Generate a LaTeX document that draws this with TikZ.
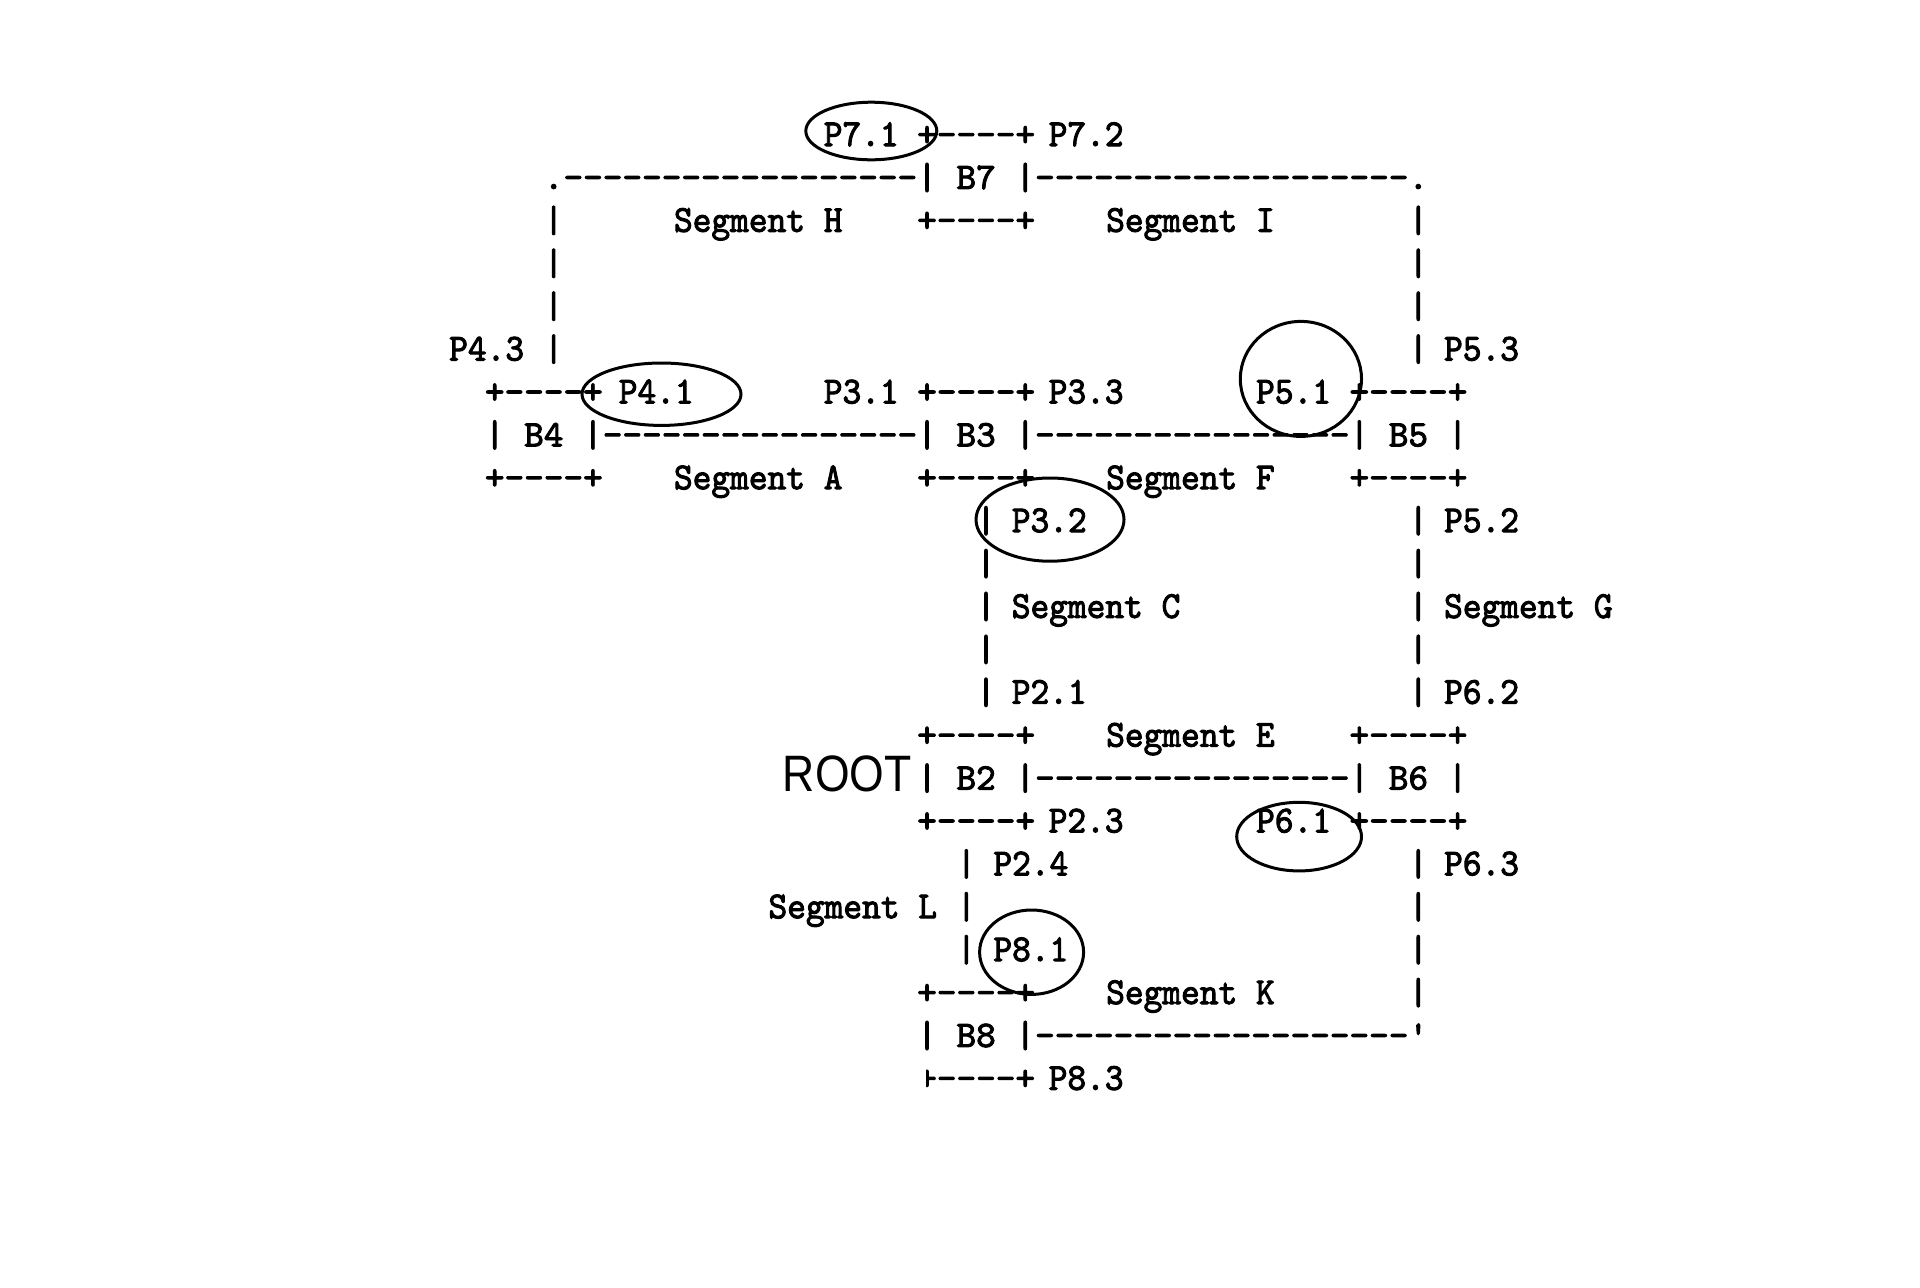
\documentclass[tikz,border=0pt]{standalone}
\usepackage{fontspec}
\usetikzlibrary{shapes.geometric}
\newfontfamily\rootfont{Liberation Sans}
\newfontfamily\asciifont{lmmono10-regular.otf}[FakeBold=2.6]
\newcommand\asciisize{\fontsize{18.67}{20}\selectfont\asciifont}
\ExplSyntaxOn
\NewDocumentCommand \cells { m }
  { \str_map_inline:nn { #1 } { \makebox [ 9.825pt ] [ c ] { ##1 } } }
\NewDocumentCommand \dashrun { m }
  { \prg_replicate:nn { #1 } { \makebox [ 9.825pt ] [ c ] { - } } }
\ExplSyntaxOff
% grid-aligned pieces (column, row)
\newcommand\place[4]{\node[asc] (#1) at ({484.9+19.65*(#2)},{146+42.9*(#3)}) {#4};}
% words (left edge x, row)
\newcommand\wordat[4]{\node[asc] (#1) at (#2,{146+42.9*(#3)}) {\scalebox{0.955}[1.02]{#4}};}
\tikzset{
  asc/.style={anchor=base west, inner sep=0pt, outer sep=0pt, font=\asciisize},
  ring/.style={draw, ellipse, line width=1.5pt, inner sep=0pt, outer sep=0pt},
}
\begin{document}
\begin{tikzpicture}[x=0.5pt,y=-0.5pt]
\fill[white] (0,0) rectangle (1920,1287);
\useasboundingbox (0,0) rectangle (1920,1287);
% row 0
\wordat{p71}{823.8}{0}{P7.1}
\place{b7top}{22}{0}{\cells{+----+}}
\wordat{p72}{1048.7}{0}{P7.2}
% row 1
\place{dotL}{3}{1}{\cells{.}}
\place{runH}{4}{1}{\dashrun{18}}
\place{b7mid}{22}{1}{\cells{| B7 |}}
\place{runI}{28}{1}{\dashrun{19}}
\place{dotR}{47}{1}{\cells{.}}
% row 2
\place{hL2}{3}{2}{\cells{|}}
\wordat{segH}{674}{2}{Segment H}
\place{b7bot}{22}{2}{\cells{+----+}}
\wordat{segI}{1106.2}{2}{Segment I}
\place{hR2}{47}{2}{\cells{|}}
% rows 3-4
\place{hL3}{3}{3}{\cells{|}}
\place{hR3}{47}{3}{\cells{|}}
\place{hL4}{3}{4}{\cells{|}}
\place{hR4}{47}{4}{\cells{|}}
% row 5
\wordat{p43}{449.2}{5}{P4.3}
\place{hL5}{3}{5}{\cells{|}}
\place{hR5}{47}{5}{\cells{|}}
\wordat{p53}{1444.1}{5}{P5.3}
% row 6
\place{b4top}{0}{6}{\cells{+----+}}
\wordat{p41}{618.8}{6}{P4.1}
\wordat{p31}{823.8}{6}{P3.1}
\place{b3top}{22}{6}{\cells{+----+}}
\wordat{p33}{1048.7}{6}{P3.3}
\wordat{p51}{1256.1}{6}{P5.1}
\place{b5top}{44}{6}{\cells{+----+}}
% row 7
\place{b4mid}{0}{7}{\cells{| B4 |}}
\place{runA}{6}{7}{\dashrun{16}}
\place{b3mid}{22}{7}{\cells{| B3 |}}
\place{runF}{28}{7}{\dashrun{16}}
\place{b5mid}{44}{7}{\cells{| B5 |}}
% row 8
\place{b4bot}{0}{8}{\cells{+----+}}
\wordat{segA}{674}{8}{Segment A}
\place{b3bot}{22}{8}{\cells{+----+}}
\wordat{segF}{1106.2}{8}{Segment F}
\place{b5bot}{44}{8}{\cells{+----+}}
% row 9
\place{cL9}{25}{9}{\cells{|}}
\wordat{p32}{1011.8}{9}{P3.2}
\place{gR9}{47}{9}{\cells{|}}
\wordat{p52}{1444.1}{9}{P5.2}
% row 10
\place{cL10}{25}{10}{\cells{|}}
\place{gR10}{47}{10}{\cells{|}}
% row 11
\place{cL11}{25}{11}{\cells{|}}
\wordat{segC}{1011.8}{11}{Segment C}
\place{gR11}{47}{11}{\cells{|}}
\wordat{segG}{1444.1}{11}{Segment G}
% row 12
\place{cL12}{25}{12}{\cells{|}}
\place{gR12}{47}{12}{\cells{|}}
% row 13
\place{cL13}{25}{13}{\cells{|}}
\wordat{p21}{1011.8}{13}{P2.1}
\place{gR13}{47}{13}{\cells{|}}
\wordat{p62}{1444.1}{13}{P6.2}
% row 14
\place{b2top}{22}{14}{\cells{+----+}}
\wordat{segE}{1106.2}{14}{Segment E}
\place{b6top}{44}{14}{\cells{+----+}}
% row 15
\place{b2mid}{22}{15}{\cells{| B2 |}}
\place{runE}{28}{15}{\dashrun{16}}
\place{b6mid}{44}{15}{\cells{| B6 |}}
\node[anchor=base east, inner sep=0pt, font=\rootfont\fontsize{25.6}{28}\selectfont] (root) at (912,791.5) {\scalebox{0.87}[1]{ROOT}};
% row 16
\place{b2bot}{22}{16}{\cells{+----+}}
\wordat{p23}{1048.7}{16}{P2.3}
\wordat{p61}{1256.1}{16}{P6.1}
\place{b6bot}{44}{16}{\cells{+----+}}
% row 17
\place{lL17}{24}{17}{\cells{|}}
\wordat{p24}{993.4}{17}{P2.4}
\place{kR17}{47}{17}{\cells{|}}
\wordat{p63}{1444.1}{17}{P6.3}
% row 18
\wordat{segL}{768.5}{18}{Segment L}
\place{lL18}{24}{18}{\cells{|}}
\place{kR18}{47}{18}{\cells{|}}
% row 19
\place{lL19}{24}{19}{\cells{|}}
\wordat{p81}{993.4}{19}{P8.1}
\place{kR19}{47}{19}{\cells{|}}
% row 20
\place{b8top}{22}{20}{\cells{+----+}}
\wordat{segK}{1106.2}{20}{Segment K}
\place{kR20}{47}{20}{\cells{|}}
% row 21
\place{b8mid}{22}{21}{\cells{| B8 |}}
\place{runK}{28}{21}{\dashrun{19}}
\place{tick}{47}{21}{\cells{'}}
% row 22 (first corner only half visible)
\begin{scope}
\clip ({494.7+19.65*22-1},1030) rectangle ({494.7+19.65*23},1110);
\place{b8c}{22}{22}{\cells{+}}
\end{scope}
\place{b8bot}{23}{22}{\cells{----+}}
\wordat{p83}{1048.7}{22}{P8.3}
% hand-drawn rings
\node[ring, minimum width=65.5pt, minimum height=28.8pt] (e71) at (871.3,131) {};
\node[ring, minimum width=79.5pt, minimum height=31.2pt] (e41) at (661.5,394.2) {};
\node[ring, minimum width=60.6pt, minimum height=57.5pt] (e51) at (1300.9,378.9) {};
\node[ring, minimum width=74pt, minimum height=41.6pt] (e32) at (1050,519.6) {};
\node[ring, minimum width=62.4pt, minimum height=34.3pt] (e61) at (1299.1,836.6) {};
\node[ring, minimum width=52pt, minimum height=42.2pt] (e81) at (1031.6,952.2) {};
\end{tikzpicture}
\end{document}
